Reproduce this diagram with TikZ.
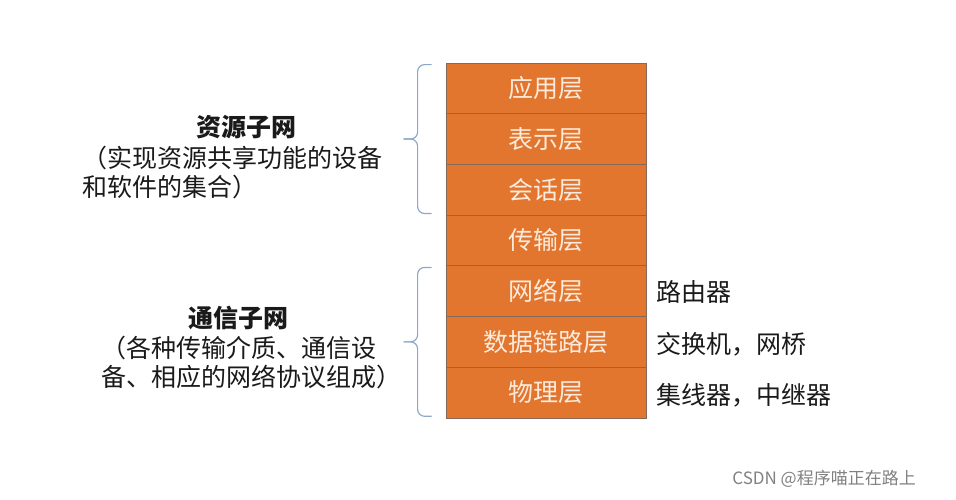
\documentclass[tikz,border=0pt]{standalone}
\usepackage{fontspec}
\setmainfont{Noto Sans CJK SC}
\usetikzlibrary{positioning, calc}
\definecolor{layerorange}{HTML}{E2762F}
\definecolor{layerline}{HTML}{86695A}
\definecolor{layertext}{HTML}{FCEBDC}
\definecolor{bracecol}{HTML}{8EA9C8}
\definecolor{labeltext}{HTML}{1A1A1A}

\begin{document}
\begin{tikzpicture}[x=1pt, y=-1pt,
    layerbox/.style={draw=layerline, line width=0.8pt, fill=layerorange,
      minimum width=200pt, minimum height=50.7pt, inner sep=0pt,
      text=layertext, font=\fontsize{25}{25}\selectfont},
    netbrace/.style={draw=bracecol, line width=1.2pt, rounded corners=7pt},
    nettitle/.style={text=labeltext, inner sep=0pt, font=\fontsize{25}{25}\selectfont\bfseries},
    netdesc/.style={text=labeltext, inner sep=0pt, anchor=north west, align=left,
      font=\fontsize{25}{29}\selectfont},
    devlabel/.style={text=labeltext, inner sep=0pt, anchor=west,
      font=\fontsize{25}{25}\selectfont}]
    \useasboundingbox (0,0) rectangle (956,499);

    % Layers
    \foreach \i/\t in {1/应用层, 2/表示层, 3/会话层, 4/传输层, 5/网络层, 6/数据链路层, 7/物理层} {
      \node[layerbox] (l\i) at (546,{63+50.7*(\i-0.5)}) {\t};
    }

    % Braces
    \coordinate (rtop) at ([xshift=-14pt,yshift=-2pt]l1.north west);
    \coordinate (rbot) at ([xshift=-14pt,yshift=2pt]l3.south west);
    \coordinate (rtip) at ($(rtop)!0.5!(rbot)+(-28,0)$);
    \draw[netbrace] (rtop) -- ++(-14,0) |- (rtip);
    \draw[netbrace] (rbot) -- ++(-14,0) |- (rtip);
    \coordinate (ctop) at ([xshift=-14pt,yshift=-2pt]l5.north west);
    \coordinate (cbot) at ([xshift=-14pt,yshift=2pt]l7.south west);
    \coordinate (ctip) at ($(ctop)!0.5!(cbot)+(-28,0)$);
    \draw[netbrace] (ctop) -- ++(-14,0) |- (ctip);
    \draw[netbrace] (cbot) -- ++(-14,0) |- (ctip);

    % Resource subnet
    \node[nettitle] (res) at (246,127) {资源子网};
    \node[netdesc] (resdesc) at (82,146) {（实现资源共享功能的设备\\和软件的集合）};

    % Communication subnet
    \node[nettitle] (com) at (238,318) {通信子网};
    \node[netdesc] (comdesc) at (101,336) {（各种传输介质、通信设\\备、相应的网络协议组成）};

    % Devices
    \node[devlabel] (dev5) at ([xshift=10pt,yshift=-1pt]l5.east) {路由器};
    \node[devlabel] (dev6) at ([xshift=10pt,yshift=-2pt]l6.east) {交换机，网桥};
    \node[devlabel] (dev7) at ([xshift=10pt,yshift=-3pt]l7.east) {集线器，中继器};

    % Watermark
    \node[text=black!50, inner sep=0pt, anchor=east, font=\fontsize{17}{17}\selectfont]
      (mark) at (916,479) {CSDN @程序喵正在路上};
\end{tikzpicture}
\end{document}
